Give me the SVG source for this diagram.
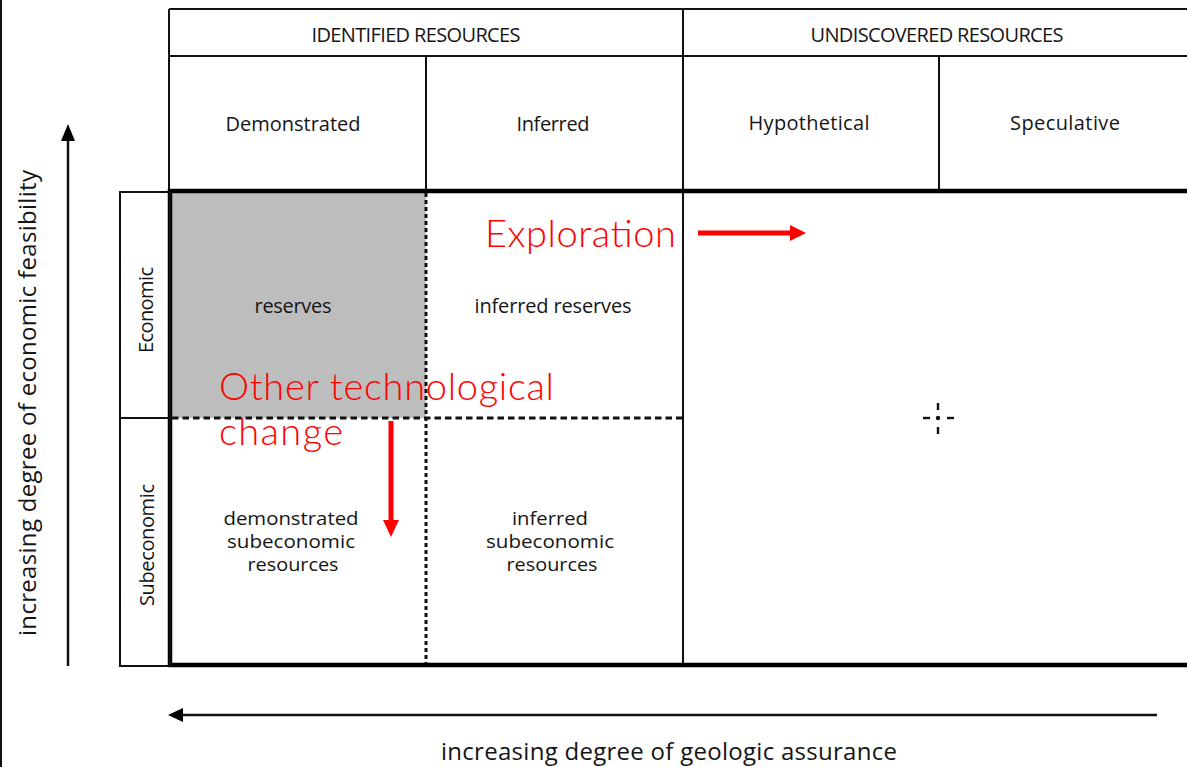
<svg xmlns="http://www.w3.org/2000/svg" width="1187" height="767" viewBox="0 0 1187 767">
  <style>
    .lbl { font-family: "Open Sans", "Liberation Sans", sans-serif; font-size: 20px; fill: #151515; text-anchor: middle; }
    .stack { font-family: "Open Sans", "Liberation Sans", sans-serif; font-size: 18.5px; fill: #151515; text-anchor: middle; }
    .axis { font-family: "Open Sans", "Liberation Sans", sans-serif; font-size: 24px; fill: #151515; text-anchor: middle; }
    .note { font-family: "Lato", "Liberation Sans", sans-serif; font-weight: 300; font-size: 38px; fill: #ff0000; }
    .thin { stroke: #111; stroke-width: 2; fill: none; }
    .thick { stroke: #000; stroke-width: 4.5; fill: none; }
    .dashv { stroke: #111; stroke-width: 3; stroke-dasharray: 4 3; fill: none; }
    .dashh { stroke: #111; stroke-width: 3; stroke-dasharray: 6.5 4; fill: none; }
    .red { stroke: #ff0000; stroke-width: 5; fill: none; }
  </style>

  <rect x="0" y="0" width="1187" height="767" fill="#ffffff"/>
  <!-- frame edge on the left -->
  <line x1="1" y1="0" x2="1" y2="767" class="thin"/>

  <!-- reserves block -->
  <g id="reserves-fill">
    <rect x="170" y="191" width="256" height="227" fill="#bdbdbd"/>
  </g>

  <!-- header grid -->
  <g id="header-grid">
    <line x1="169" y1="9" x2="1187" y2="9" class="thin"/>
    <line x1="169" y1="56" x2="1187" y2="56" class="thin"/>
    <line x1="169" y1="9" x2="169" y2="191" class="thin"/>
    <line x1="683" y1="9" x2="683" y2="665" class="thin"/>
    <line x1="426" y1="56" x2="426" y2="191" class="thin"/>
    <line x1="939" y1="56" x2="939" y2="191" class="thin"/>
  </g>

  <!-- main frame and inner subdivisions -->
  <g id="main-grid">
    <line x1="168" y1="191" x2="1187" y2="191" class="thick"/>
    <line x1="170" y1="189" x2="170" y2="667" class="thick"/>
    <line x1="168" y1="665" x2="1187" y2="665" class="thick"/>
    <line x1="426" y1="193" x2="426" y2="663" class="dashv"/>
    <line x1="172" y1="418" x2="683" y2="418" class="dashh"/>
  </g>

  <!-- economic / subeconomic side bar -->
  <g id="side-bar">
    <rect x="120" y="192" width="50" height="474" class="thin"/>
    <line x1="120" y1="418" x2="170" y2="418" class="thin"/>
  </g>

  <g id="node-identified"><text x="416" y="42" class="lbl" textLength="209">IDENTIFIED RESOURCES</text></g>
  <g id="node-undiscovered"><text x="937" y="42" class="lbl" textLength="253">UNDISCOVERED RESOURCES</text></g>
  <g id="node-demonstrated"><text x="293" y="131" class="lbl" textLength="135">Demonstrated</text></g>
  <g id="node-inferred"><text x="553" y="131" class="lbl" textLength="73">Inferred</text></g>
  <g id="node-hypothetical"><text x="809" y="130" class="lbl" textLength="121">Hypothetical</text></g>
  <g id="node-speculative"><text x="1065" y="130" class="lbl" textLength="110">Speculative</text></g>

  <g id="node-reserves"><text x="293" y="313" class="lbl" textLength="77">reserves</text></g>
  <g id="node-inferred-reserves"><text x="553" y="313" class="lbl" textLength="157">inferred reserves</text></g>
  <g id="node-demonstrated-subeconomic">
    <text x="291" y="525" class="stack" textLength="135" lengthAdjust="spacingAndGlyphs">demonstrated</text>
    <text x="291" y="548" class="stack" textLength="128" lengthAdjust="spacingAndGlyphs">subeconomic</text>
    <text x="293" y="571" class="stack" textLength="91" lengthAdjust="spacingAndGlyphs">resources</text>
  </g>
  <g id="node-inferred-subeconomic">
    <text x="550" y="525" class="stack" textLength="76" lengthAdjust="spacingAndGlyphs">inferred</text>
    <text x="550" y="548" class="stack" textLength="128" lengthAdjust="spacingAndGlyphs">subeconomic</text>
    <text x="552" y="571" class="stack" textLength="91" lengthAdjust="spacingAndGlyphs">resources</text>
  </g>

  <g id="node-economic"><text transform="translate(153,310) rotate(-90)" class="lbl" textLength="86">Economic</text></g>
  <g id="node-subeconomic"><text transform="translate(154,545) rotate(-90)" class="lbl" textLength="122">Subeconomic</text></g>

  <!-- undiscovered-area marker -->
  <g id="crosshair" stroke="#111" stroke-width="2.4">
    <line x1="923" y1="418" x2="930" y2="418"/>
    <line x1="947" y1="418" x2="954" y2="418"/>
    <line x1="938" y1="403" x2="938" y2="410"/>
    <line x1="938" y1="427" x2="938" y2="434"/>
    <circle cx="938" cy="418" r="2.2" fill="#111" stroke="none"/>
  </g>

  <!-- axes -->
  <g id="axes">
    <line x1="68" y1="666" x2="68" y2="138" stroke="#111" stroke-width="2.5"/>
    <polygon points="68,124 61,141 75,141" fill="#000"/>
    <line x1="1157" y1="715" x2="180" y2="715" stroke="#111" stroke-width="2.5"/>
    <polygon points="168,715 183,708 183,722" fill="#000"/>
  </g>
  <g id="axis-y-label"><text transform="translate(36,403) rotate(-90)" class="axis" textLength="466">increasing degree of economic feasibility</text></g>
  <g id="axis-x-label"><text x="669" y="760" class="axis" textLength="456">increasing degree of geologic assurance</text></g>

  <!-- red annotations -->
  <g id="node-exploration"><text x="485" y="247" class="note" textLength="191">Exploration</text></g>
  <g id="node-tech-change">
    <text x="219" y="400" class="note" textLength="335">Other technological</text>
    <text x="219" y="445" class="note" textLength="124">change</text>
  </g>

  <g id="connectors">
    <line x1="698" y1="233" x2="792" y2="233" class="red"/>
    <polygon points="806,233 790,225 790,241" fill="#ff0000"/>
    <line x1="391" y1="421" x2="391" y2="522" class="red"/>
    <polygon points="391,537 383,520 399,520" fill="#ff0000"/>
  </g>
</svg>
